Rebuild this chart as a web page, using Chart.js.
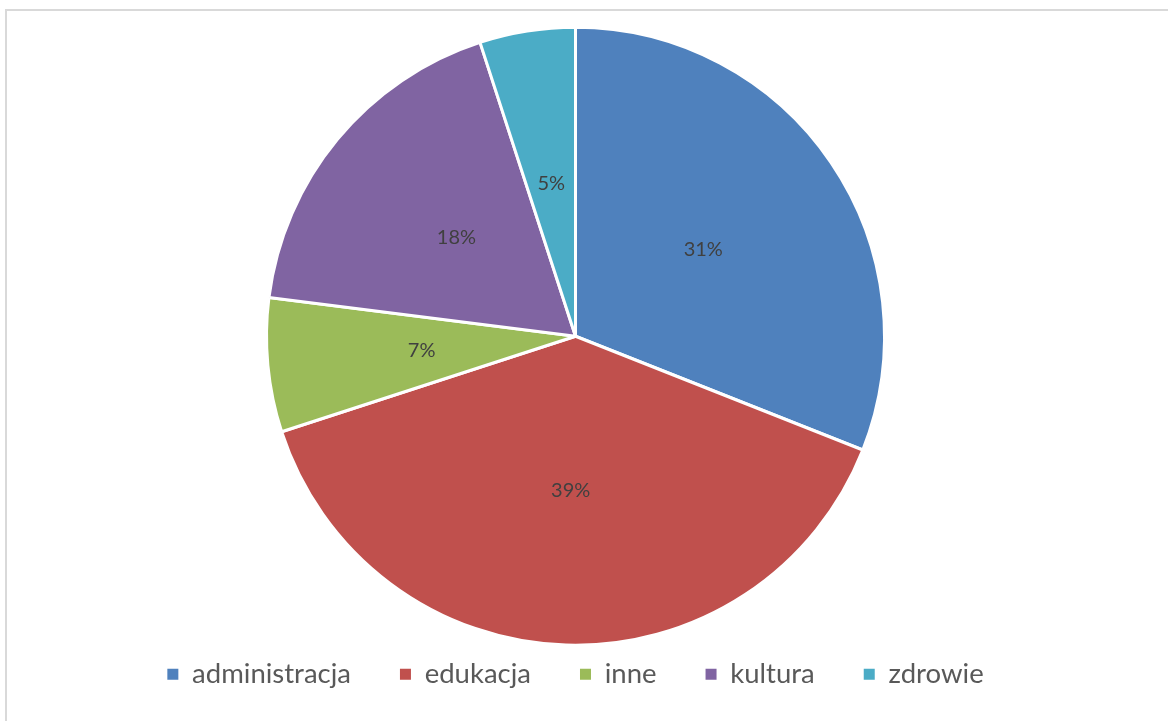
<!DOCTYPE html>
<html>
<head>
<meta charset="utf-8">
<script src="https://cdn.jsdelivr.net/npm/chart.js@4/dist/chart.umd.min.js"></script>
<style>
  html, body { margin: 0; padding: 0; background: #fff; overflow: hidden; }
  body { width: 1168px; height: 721px; position: relative; }
  #frame { position: absolute; left: 5px; top: 9px; width: 1200px; height: 800px;
    border-left: 2px solid #d9d9d9; border-top: 2px solid #d9d9d9; }
  #wrap { position: absolute; left: -7px; top: -11px; width: 1168px; height: 721px; }
</style>
</head>
<body>
<div id="frame"><div id="wrap"><canvas id="pie"></canvas></div></div>
<script>
const categories = ["administracja", "edukacja", "inne", "kultura", "zdrowie"];
const shares = [31, 39, 7, 18, 5];
const colors = ["#4f81bd", "#c0504d", "#9bbb59", "#8064a2", "#4bacc6"];

// percentage labels in the middle of each slice
const pctLabels = {
  id: "pctLabels",
  afterDatasetsDraw(chart) {
    const { ctx } = chart;
    const meta = chart.getDatasetMeta(0);
    const total = shares.reduce((a, b) => a + b, 0);
    ctx.save();
    ctx.font = "20px Lato";
    ctx.fillStyle = "#404040";
    ctx.textAlign = "center";
    ctx.textBaseline = "middle";
    meta.data.forEach((arc, i) => {
      const p = arc.tooltipPosition();
      ctx.fillText(Math.round(shares[i] / total * 100) + "%", p.x, p.y);
    });
    ctx.restore();
  },
};

const baseLabels = Chart.overrides.pie.plugins.legend.labels.generateLabels;

new Chart(document.getElementById("pie"), {
  type: "pie",
  data: {
    labels: categories,
    datasets: [{ data: shares, backgroundColor: colors, borderColor: "#fff", borderWidth: 3, radius: 309 }],
  },
  options: {
    responsive: true,
    maintainAspectRatio: false,
    animation: false,
    layout: { padding: { top: 61, bottom: 23, left: 0, right: 17 } },
    plugins: {
      tooltip: { enabled: false },
      legend: {
        position: "bottom",
        labels: {
          boxWidth: 11, boxHeight: 11, padding: 49, color: "#595959",
          font: { family: "Lato", size: 27.5 },
          generateLabels: (chart) => baseLabels(chart).map((l) => ({ ...l, lineWidth: 0, strokeStyle: "transparent" })),
        },
      },
    },
  },
  plugins: [pctLabels],
});
</script>
</body>
</html>
